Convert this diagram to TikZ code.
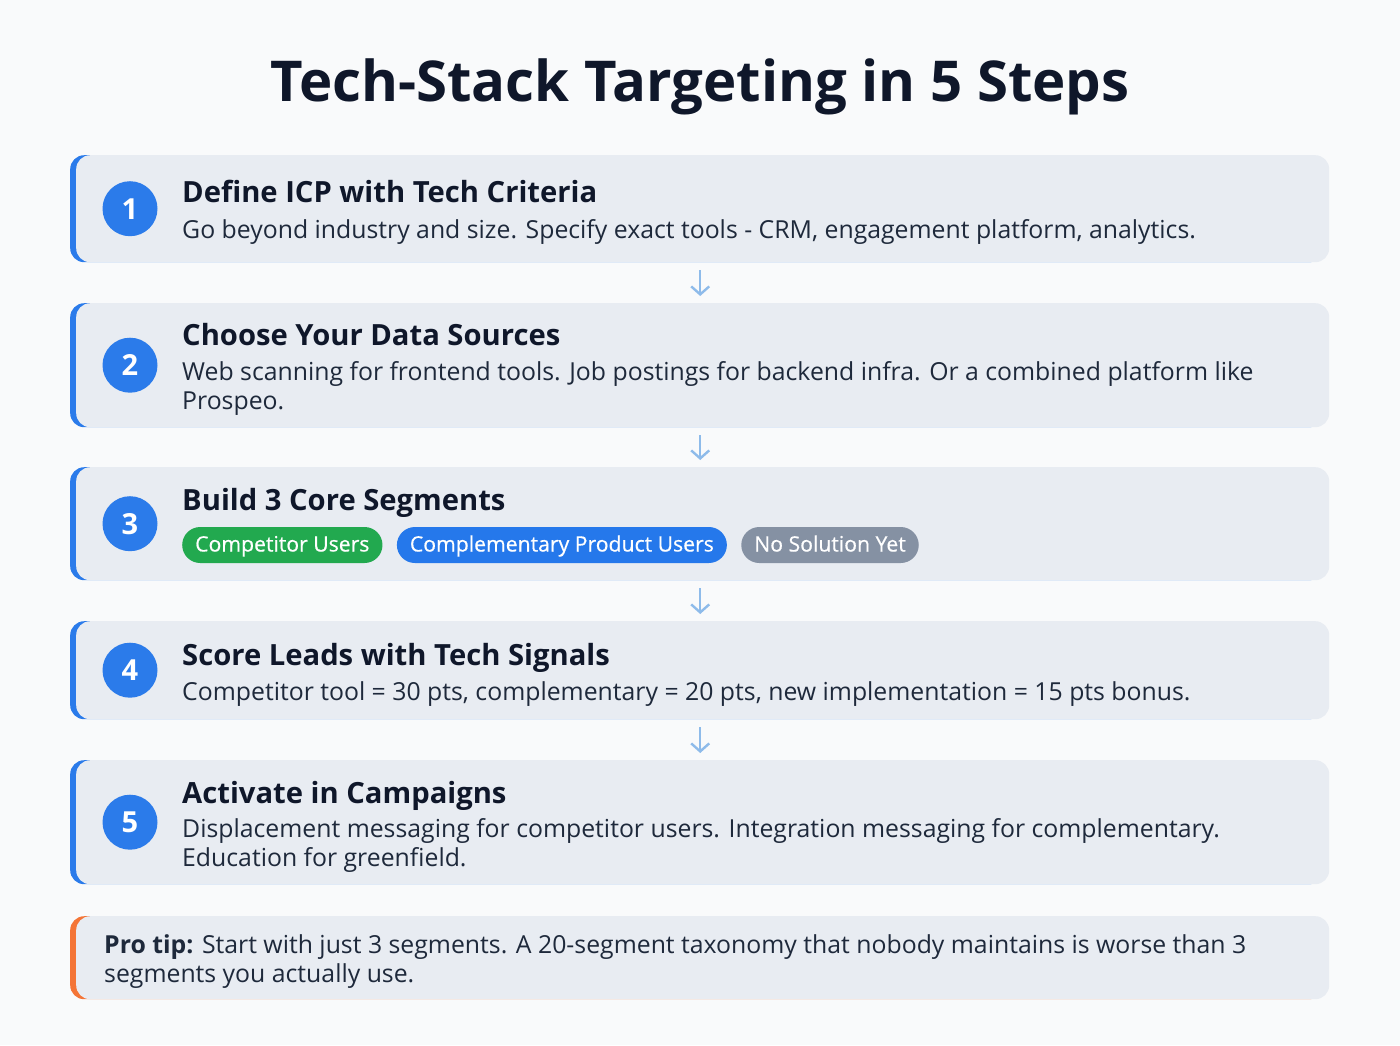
\documentclass[tikz,border=0pt]{standalone}
\usepackage{fontspec}
\setmainfont{Open Sans}
\usetikzlibrary{positioning, arrows.meta}

\definecolor{pagebg}{HTML}{F9FAFB}
\definecolor{cardbg}{HTML}{E8ECF2}
\definecolor{stepblue}{HTML}{2B7BEA}
\definecolor{tiporange}{HTML}{F47537}
\definecolor{inkdark}{HTML}{0F172A}
\definecolor{inktext}{HTML}{1E293B}
\definecolor{flowarrow}{HTML}{8EBBEA}
\definecolor{pillgreen}{HTML}{22A94F}
\definecolor{pillblue}{HTML}{2578EB}
\definecolor{pillgray}{HTML}{8591A3}

\tikzset{
  card/.style={fill=cardbg, rounded corners=14pt, minimum width=1253pt, anchor=north west,
    inner sep=0pt, preaction={fill=#1, transform canvas={xshift=-6pt}}},
  card/.default=stepblue,
  num/.style={circle, fill=stepblue, minimum size=55pt, inner sep=0pt, text=white,
    font=\fontsize{29}{30}\selectfont\bfseries},
  steptitle/.style={anchor=base west, inner sep=0pt, text=inkdark,
    font=\fontsize{29.2}{30}\selectfont\bfseries},
  stepdesc/.style={anchor=base west, inner sep=0pt, text=inktext, align=left,
    font=\fontsize{24.8}{29}\selectfont},
  pill/.style={fill=#1, rounded corners=18pt, minimum height=36pt, inner xsep=13pt,
    inner ysep=0pt, text height=15pt, text depth=2pt, text=white,
    font=\fontsize{21.2}{22}\selectfont\addfontfeature{FakeBold=0.6}},
  flow/.style={draw=flowarrow, line width=2.4pt, shorten <=8pt, shorten >=7pt,
    -{Straight Barb[length=8pt, width=18pt, line width=2.4pt]}},
}

\begin{document}
\begin{tikzpicture}[x=1pt, y=-1pt]
  \fill[pagebg] (0,0) rectangle (1400,1045);
  \useasboundingbox (0,0) rectangle (1400,1045);

  \node[anchor=base, text=inkdark, font=\fontsize{56.3}{60}\selectfont\bfseries]
    (title) at (700,101) {Tech-Stack Targeting in 5 Steps};

  % step cards
  \node[card, minimum height=107pt] (c1) at (76,155) {};
  \node[card, minimum height=124pt] (c2) at (76,303) {};
  \node[card, minimum height=113pt] (c3) at (76,467) {};
  \node[card, minimum height=98pt]  (c4) at (76,621) {};
  \node[card, minimum height=124pt] (c5) at (76,760) {};
  \node[card=tiporange, minimum height=83pt] (tip) at (76,916) {};

  \foreach \k in {1,...,5}
    \node[num] (n\k) at ([xshift=54pt]c\k.west) {\k};

  % flow arrows
  \foreach \a/\b in {c1/c2, c2/c3, c3/c4, c4/c5}
    \draw[flow] ([xshift=-2.5pt]\a.south) -- ([xshift=-2.5pt]\b.north);

  % step 1
  \node[steptitle] (t1) at (182,202) {Define ICP with Tech Criteria};
  \node[stepdesc] (d1) at (182,238)
    {Go beyond industry and size. Specify exact tools - CRM, engagement platform, analytics.};

  % step 2 (base = last line)
  \node[steptitle] (t2) at (182,345) {Choose Your Data Sources};
  \node[stepdesc] (d2) at (182,409)
    {Web scanning for frontend tools. Job postings for backend infra. Or a combined platform like\\Prospeo.};

  % step 3
  \node[steptitle] (t3) at (182,510) {Build 3 Core Segments};
  \node[pill=pillgreen, anchor=west] (s1) at (182,545) {Competitor Users};
  \node[pill=pillblue, right=14pt of s1] (s2) {Complementary Product Users};
  \node[pill=pillgray, right=14pt of s2] (s3) {No Solution Yet};

  % step 4
  \node[steptitle] (t4) at (182,665) {Score Leads with Tech Signals};
  \node[stepdesc] (d4) at (182,700)
    {Competitor tool = 30 pts, complementary = 20 pts, new implementation = 15 pts bonus.};

  % step 5
  \node[steptitle] (t5) at (182,803) {Activate in Campaigns};
  \node[stepdesc] (d5) at (182,866)
    {Displacement messaging for competitor users. Integration messaging for complementary.\\Education for greenfield.};

  % tip
  \node[stepdesc] (tiptext) at (104,982)
    {\textbf{Pro tip:} Start with just 3 segments. A 20-segment taxonomy that nobody maintains is worse than 3\\segments you actually use.};
\end{tikzpicture}
\end{document}
